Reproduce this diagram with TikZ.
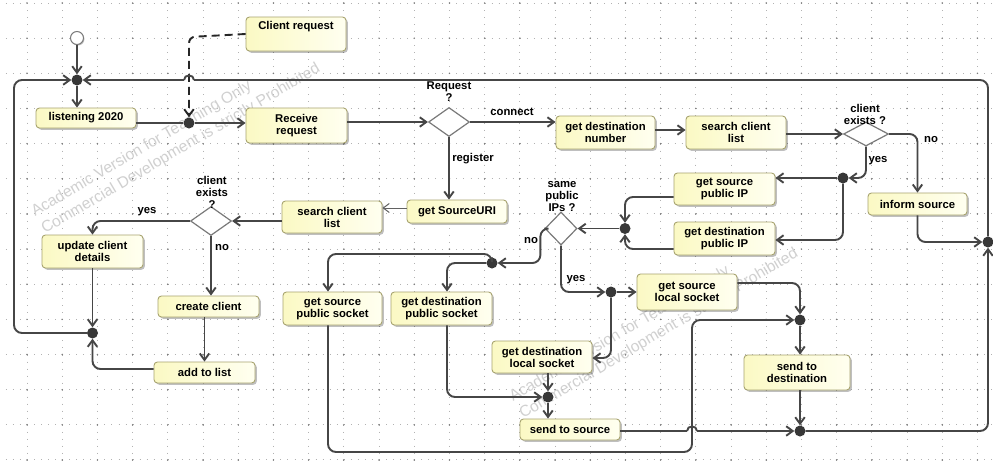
\documentclass[tikz,border=0pt]{standalone}
\usepackage{fontspec}
\setmainfont{Liberation Sans}
\usetikzlibrary{shapes.geometric,arrows.meta,shadows,calc}

\definecolor{boxL}{RGB}{251,249,196}
\definecolor{boxR}{RGB}{255,255,240}
\definecolor{boxline}{RGB}{168,164,112}
\definecolor{decline}{RGB}{122,122,122}
\definecolor{linec}{RGB}{70,70,70}
\definecolor{dotc}{RGB}{55,55,55}
\definecolor{gridc}{RGB}{178,178,178}
\definecolor{gridx}{RGB}{125,125,125}
\definecolor{wmc}{RGB}{208,208,208}
\newcommand\actfont{\bfseries\fontsize{11.3}{12}\selectfont}

\begin{document}
\begin{tikzpicture}[x=1pt,y=-1pt,
  act/.style={draw=boxline, line width=0.9pt, rounded corners=3.5pt,
    left color=boxL, right color=boxR, font=\actfont, align=center, inner sep=0pt,
    drop shadow={shadow xshift=1.8pt, shadow yshift=-1.8pt, fill=black, opacity=0.25}},
  dec/.style={diamond, draw=decline, fill=white, line width=1.2pt, inner sep=0pt},
  bar/.style={circle, fill=dotc, inner sep=0pt, minimum size=11pt},
  flow/.style={draw=linec, line width=1.9pt, rounded corners=8pt,
    -{Straight Barb[length=6.5pt,width=9.5pt]}},
  plain/.style={draw=linec, line width=1.9pt, rounded corners=8pt},
  thinflow/.style={draw=linec!85, line width=1pt, -{Straight Barb[length=6pt,width=9pt]}},
  dashflow/.style={draw=black!85, line width=1.9pt, dash pattern=on 8pt off 5pt,
    rounded corners=6pt, -{Straight Barb[length=6.5pt,width=9.5pt]}},
  tag/.style={font=\actfont, inner sep=0pt, align=center},
  wm/.style={text=wmc, font=\fontsize{15.7}{20}\selectfont, rotate=30.5, anchor=base west, inner sep=0pt},
  griddot/.style={draw=gridc, line width=1pt}
]
\useasboundingbox (0,0) rectangle (993,464);
\fill[white] (0,0) rectangle (993,464);

% dotted background grid
\foreach \j in {0,...,13}
  \draw[griddot, dash pattern=on 1pt off 6.04pt] (-1.16,{3+35.15*\j}) -- (993,{3+35.15*\j});
\foreach \i in {0,...,27}
  \draw[griddot, dash pattern=on 1pt off 6.03pt] ({27+35.2*\i},-4.03) -- ({27+35.2*\i},464);
\foreach \i in {0,...,27}
  \foreach \j in {0,...,13}
    \fill[gridx] ({27+35.2*\i},{3+35.15*\j}) circle (0.85);

% tool watermark
\node[wm] (wm1a) at (35,217) {Academic Version for Teaching Only};
\node[wm] (wm1b) at (45,234) {Commercial Development is strictly Prohibited};
\node[wm] (wm2a) at (513,402) {Academic Version for Teaching Only};
\node[wm] (wm2b) at (523,419) {Commercial Development is strictly Prohibited};

% actions
\node[act, minimum width=100pt, minimum height=34pt, text depth=18pt] (creq) at (296,34) {Client request};
\node[act, minimum width=100pt, minimum height=20pt] (listen) at (86,118) {listening 2020};
\node[act, minimum width=101pt, minimum height=35pt] (recv) at (296.5,125.5) {Receive\\request};
\node[act, minimum width=99pt, minimum height=33pt] (gdn) at (605.5,132.5) {get destination\\number};
\node[act, minimum width=100pt, minimum height=33pt] (scR) at (736,132.5) {search client\\list};
\node[act, minimum width=101pt, minimum height=32pt] (gsip) at (724.5,189) {get source\\public IP};
\node[act, minimum width=101pt, minimum height=33pt] (gdip) at (724.5,238.5) {get destination\\public IP};
\node[act, minimum width=99pt, minimum height=22pt] (inf) at (917.5,204) {inform source};
\node[act, minimum width=100pt, minimum height=32pt] (scL) at (332,217) {search client\\list};
\node[act, minimum width=100pt, minimum height=23pt] (guri) at (457,211.5) {get SourceURI};
\node[act, minimum width=101pt, minimum height=33pt] (upd) at (92.5,251.5) {update client\\details};
\node[act, minimum width=101pt, minimum height=21pt] (crt) at (208.5,306.5) {create client};
\node[act, minimum width=101pt, minimum height=21pt] (add) at (204.5,372.5) {add to list};
\node[act, minimum width=99pt, minimum height=33pt] (gsps) at (332.5,308.5) {get source\\public socket};
\node[act, minimum width=101pt, minimum height=33pt] (gdps) at (441.5,308.5) {get destination\\public socket};
\node[act, minimum width=100pt, minimum height=36pt] (gsls) at (687,292) {get source\\local socket};
\node[act, minimum width=100pt, minimum height=32pt] (gdls) at (542,357) {get destination\\local socket};
\node[act, minimum width=100pt, minimum height=21pt] (sts) at (570,429.5) {send to source};
\node[act, minimum width=106pt, minimum height=35pt] (std) at (797,372.5) {send to\\destination};

% decisions
\node[dec, minimum width=41pt, minimum height=29pt] (dReq) at (449,122) {};
\node[dec, minimum width=41pt, minimum height=29pt] (dL) at (211,221) {};
\node[dec, minimum width=45pt, minimum height=24pt] (dR) at (866,134) {};
\node[dec, minimum width=32pt, minimum height=33pt] (dS) at (561,228.5) {};

\node[tag] (qReq) at (449,92) {Request\\?};
\node[tag] (qL) at (212,192) {client\\exists\\?};
\node[tag] (qR) at (865,114) {client\\exists ?};
\node[tag] (qS) at (562,197) {same\\public\\IPs ?};

% initial node and join/fork points
\node[circle, draw=decline, fill=white, line width=1pt, minimum size=13pt, inner sep=0pt,
  drop shadow={shadow xshift=1pt, shadow yshift=-1pt, fill=black, opacity=0.25}] (init) at (77,38) {};
\node[bar] (jTop) at (77,80) {};
\node[bar] (jRecv) at (189,123) {};
\node[bar] (jL) at (92.5,333) {};
\node[bar] (jR) at (988,242) {};
\node[bar] (jYesR) at (843,178) {};
\node[bar] (jIP) at (625,228.5) {};
\node[bar] (jNo) at (492,263) {};
\node[bar] (jYesS) at (611,292) {};
\node[bar] (jSS) at (548,397) {};
\node[bar] (jSD) at (800,320) {};
\node[bar] (jEnd) at (800,431) {};

% bend points
\coordinate (cDash) at (189,37);
\coordinate (cLoopL) at (14,80);
\coordinate (cHopA) at (194,80);
\coordinate (cHopB) at (184,80);
\coordinate (cNoS) at (328,254);
\coordinate (cLow) at (692,452);
\coordinate (cHopC) at (687,431);
\coordinate (cHopD) at (697,431);

% flows
\draw[flow] (init) -- (jTop);
\draw[flow] (jTop) -- (jTop |- listen.north);
\draw[plain] (listen.east |- jRecv) -- (jRecv);
\draw[dashflow] (creq.west) -- (cDash) -- (jRecv);
\draw[flow] (jRecv) -- (jRecv -| recv.west);
\draw[flow] (recv.east |- dReq) -- (dReq.west);
\draw[flow] (dReq.east) -- (dReq.east -| gdn.west);
\node[tag] (tConnect) at (512,112) {connect};
\draw[flow] (dReq.south) -- (dReq.south |- guri.north);
\node[tag] (tRegister) at (473,159) {register};
\draw[thinflow] ([yshift=3.5pt]guri.west) -- ([yshift=3.5pt]guri.west -| scL.east);
\draw[flow] ([yshift=-4pt]scL.west) -- (dL.east);
\draw[flow] (dL.west) -| (upd.north);
\node[tag] (tYesL) at (147,212) {yes};
\draw[flow] (dL.south) -- (dL.south |- crt.north);
\node[tag] (tNoL) at (222,248) {no};
\draw[flow] ([xshift=-4pt]crt.south) -- ([xshift=-4pt]crt.south |- add.north);
\draw[flow] (upd.south) -- (jL);
\draw[flow] ([yshift=3.5pt]add.west) -| (jL);
\draw[flow] (jL) -| (cLoopL) -- (jTop);

\draw[flow] ([yshift=2.5pt]gdn.east) -- ([yshift=2.5pt]gdn.east -| scR.west);
\draw[flow] ([yshift=-1.5pt]scR.east) -- (dR.west);
\draw[flow] (dR.east) -| (inf.north);
\node[tag] (tNoR) at (931,140) {no};
\draw[flow] (dR.south) |- (jYesR);
\node[tag] (tYesR) at (878,161) {yes};
\draw[flow] (jYesR) -- (jYesR -| gsip.east);
\draw[flow] (jYesR) |- ([yshift=-1.5pt]gdip.east);
\draw[flow] ([yshift=-8pt]gsip.west) -| (jIP);
\draw[flow] ([yshift=-10.5pt]gdip.west) -| (jIP);
\draw[flow] (jIP) -- (dS.east);
\draw[flow] (dS.west) -- ++(-4,0) |- (jNo);
\node[tag] (tNoS) at (531,241) {no};
\draw[flow] (jNo) -| ([xshift=5.5pt]gdps.north);
\draw[flow] (jNo.north) |- (cNoS) -- ([xshift=-4.5pt]gsps.north);
\draw[flow] (dS.south) |- (jYesS);
\node[tag] (tYesS) at (576,280) {yes};
\draw[flow] (jYesS) -- (jYesS -| gsls.west);
\draw[flow] (jYesS) |- ([yshift=-1pt]gdls.east);
\draw[flow] ([xshift=6pt]gdls.south) -- (jSS);
\draw[flow] ([xshift=5.5pt]gdps.south) |- (jSS);
\draw[flow] (jSS) -- (jSS |- sts.north);
\draw[flow] ([xshift=-4.5pt]gsps.south) |- (cLow) |- (jSD);
\draw[flow] ([yshift=9pt]gsls.east) -| (jSD);
\draw[flow] (jSD) -- (jSD |- std.north);
\draw[flow] (jSD |- std.south) -- (jEnd);
% send to source, hopping over the crossing line
\draw[plain] ([yshift=-1.5pt]sts.east) -- (cHopC);
\draw[plain] (cHopC) .. controls ($(cHopC)+(0,-6)$) and ($(cHopD)+(0,-6)$) .. (cHopD);
\draw[flow] (cHopD) -- (jEnd);

% outer loop back to the top
\draw[flow] (jEnd) -| (jR);
\draw[flow] (inf.south) |- (jR);
\draw[plain] (jR) |- (cHopA);
\draw[plain] (cHopA) .. controls ($(cHopA)+(0,-6)$) and ($(cHopB)+(0,-6)$) .. (cHopB);
\draw[flow] (cHopB) -- (jTop);
\end{tikzpicture}
\end{document}
